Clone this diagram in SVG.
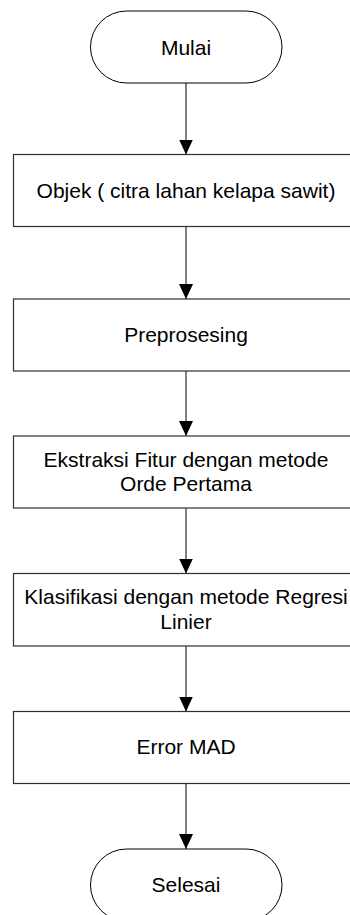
<svg xmlns="http://www.w3.org/2000/svg" width="350" height="915" viewBox="0 0 350 915">
  <style>
    .term { fill: #ffffff; stroke: #000000; stroke-width: 1; }
    .proc { fill: #ffffff; stroke: #303030; stroke-width: 1.2; }
    .label { font-family: "Liberation Sans", Arial, sans-serif; font-size: 21px; fill: #000000; text-anchor: middle; }
    .flow { fill: none; stroke: #000000; stroke-width: 1; marker-end: url(#arrow); }
  </style>
  <defs>
    <!-- filled triangular arrowhead, tip at the end of the line -->
    <marker id="arrow" markerUnits="userSpaceOnUse" markerWidth="15" markerHeight="14" viewBox="0 0 15 14" refX="15" refY="7" orient="auto">
      <path d="M0,0 L15,7 L0,14 Z" fill="#000000"/>
    </marker>
  </defs>
  <rect width="350" height="915" fill="#ffffff"/>

  <!-- flow connectors -->
  <g id="connectors">
    <line class="flow" x1="186" y1="83" x2="186" y2="154.5"/>
    <line class="flow" x1="186" y1="226.5" x2="186" y2="299"/>
    <line class="flow" x1="186" y1="371" x2="186" y2="436"/>
    <line class="flow" x1="186" y1="508" x2="186" y2="573.5"/>
    <line class="flow" x1="186" y1="646" x2="186" y2="711.5"/>
    <line class="flow" x1="186" y1="783.5" x2="186" y2="849"/>
  </g>

  <g id="mulai">
    <rect class="term" x="90.5" y="11" width="191.5" height="72" rx="36" ry="36"/>
    <text class="label" x="186" y="54.5">Mulai</text>
  </g>

  <g id="objek">
    <rect class="proc" x="13.5" y="154.5" width="345" height="72"/>
    <text class="label" x="186" y="197.5">Objek ( citra lahan kelapa sawit)</text>
  </g>

  <g id="preprosesing">
    <rect class="proc" x="13.5" y="299" width="345" height="72"/>
    <text class="label" x="186" y="342">Preprosesing</text>
  </g>

  <g id="ekstraksi">
    <rect class="proc" x="13.5" y="436" width="345" height="72"/>
    <text class="label" x="186" y="466.7">Ekstraksi Fitur dengan metode</text>
    <text class="label" x="186" y="491">Orde Pertama</text>
  </g>

  <g id="klasifikasi">
    <rect class="proc" x="13.5" y="573.5" width="345" height="72.5"/>
    <text class="label" x="186" y="604.3">Klasifikasi dengan metode Regresi</text>
    <text class="label" x="186" y="629">Linier</text>
  </g>

  <g id="error-mad">
    <rect class="proc" x="13.5" y="711.5" width="345" height="72"/>
    <text class="label" x="186" y="754">Error MAD</text>
  </g>

  <g id="selesai">
    <rect class="term" x="90.5" y="849" width="191.5" height="72" rx="36" ry="36"/>
    <text class="label" x="186" y="892">Selesai</text>
  </g>
</svg>
